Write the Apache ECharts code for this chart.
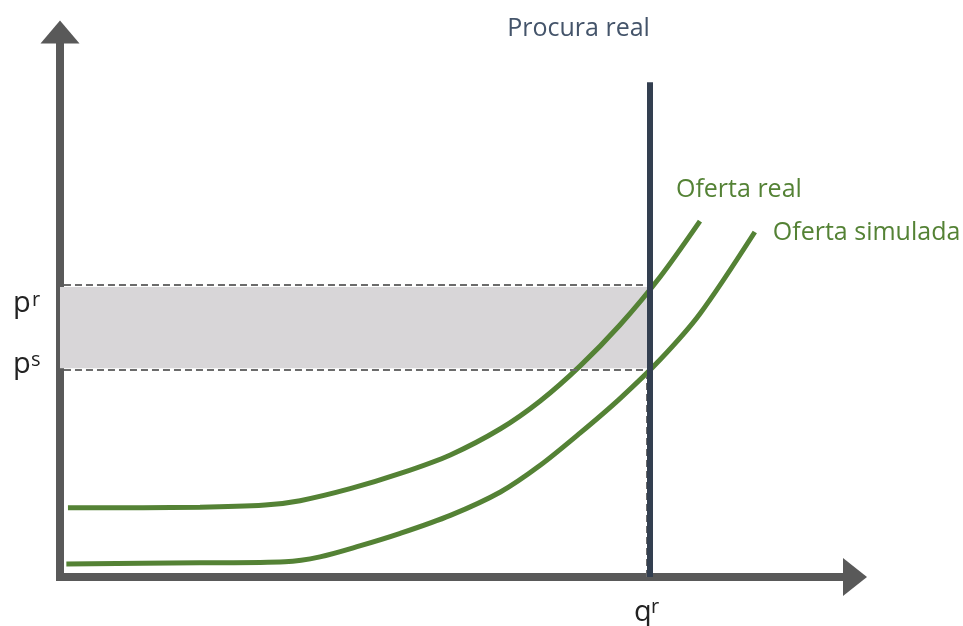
<!DOCTYPE html>
<html><head><meta charset="utf-8">
<script src="https://cdn.jsdelivr.net/npm/echarts@6/dist/echarts.min.js"></script>
<style>html,body{margin:0;padding:0;background:#fff}#c{width:963px;height:626px}</style>
</head><body><div id="c"></div>
<script>
// Quantities (x) and prices (y) in arbitrary units 0..100
const qReal = [1.0, 17.6, 25.8, 30.2, 36.5, 42.8, 49.1, 55.4, 60.4, 65.4, 70.4, 75.5, 80.5];
const pReal = [12.7, 12.8, 13.2, 14.0, 16.2, 19.0, 22.4, 27.2, 32.3, 38.7, 46.2, 55.1, 65.3];
const qSim  = [0.8, 17.6, 28.3, 32.7, 37.7, 42.8, 49.1, 55.4, 60.4, 65.4, 70.4, 75.5, 80.5, 87.4];
const pSim  = [2.4, 2.6, 2.8, 3.7, 5.7, 8.0, 11.3, 15.6, 20.5, 26.4, 32.7, 39.9, 48.3, 63.3];
const qr = 74.2;        // real quantity (vertical demand)
const pr = 53.2;        // real price
const ps = 38.3;        // simulated price
const demandTop = 90.8; // top of vertical demand line
const labels = { demand: 'Procura real', real: 'Oferta real', sim: 'Oferta simulada' };

const green = '#548235';
const font = '"Open Sans", "Noto Sans", sans-serif';
const zip = (a, b) => a.map((v, i) => [v, b[i]]);

const chart = echarts.init(document.getElementById('c'), null, { renderer: 'canvas' });
const axisCommon = {
  type: 'value', min: 0, max: 100,
  axisLine: { show: true, symbol: ['none', 'triangle'], lineStyle: { color: '#595959', width: 8, cap: 'square' } },
  axisTick: { show: false }, axisLabel: { show: false }, splitLine: { show: false }
};
chart.setOption({
  animation: false,
  grid: { left: 60, right: 108, top: 32, bottom: 49 },
  xAxis: Object.assign({}, axisCommon, { axisLine: Object.assign({}, axisCommon.axisLine, { symbolSize: [38, 24] }) }),
  yAxis: Object.assign({}, axisCommon, { axisLine: Object.assign({}, axisCommon.axisLine, { symbolSize: [39, 23] }) }),
  series: [
    {
      type: 'line', data: [], z: 1, silent: true,
      markArea: { silent: true, itemStyle: { color: '#d8d6d8' }, data: [[{ coord: [0, ps] }, { coord: [qr, pr] }]] },
      markLine: {
        silent: true, symbol: ['none', 'none'], label: { show: false },
        lineStyle: { color: '#6b6b6b', width: 2, type: [7, 4] },
        data: [
          [{ coord: [0.5, pr + 0.4] }, { coord: [qr - 0.5, pr + 0.4] }],
          [{ coord: [0.5, ps - 0.3] }, { coord: [qr - 0.5, ps - 0.3] }],
          [{ coord: [qr - 0.45, 0] }, { coord: [qr - 0.45, ps - 1.5] }]
        ]
      }
    },
    { name: labels.real, type: 'line', z: 3, data: zip(qReal, pReal), smooth: 0.3, showSymbol: false, lineStyle: { color: green, width: 5 } },
    { name: labels.sim, type: 'line', z: 3, data: zip(qSim, pSim), smooth: 0.3, showSymbol: false, lineStyle: { color: green, width: 5 } },
    {
      type: 'line', data: [], z: 5, silent: true,
      markLine: {
        silent: true, symbol: ['none', 'none'], label: { show: false },
        lineStyle: { color: '#333f50', width: 6, type: 'solid' },
        data: [[{ coord: [qr, 0] }, { coord: [qr, demandTop] }]]
      }
    }
  ]
});

const px = (x, y) => chart.convertToPixel({ gridIndex: 0 }, [x, y]);
const txt = (text, p, dx, dy, size, color, align) => ({
  type: 'text', x: p[0] + dx, y: p[1] + dy, silent: true, z: 10,
  style: { text: text, fill: color, font: size + 'px ' + font, align: align || 'left', verticalAlign: 'middle' }
});
const y0 = px(0, pr), y1 = px(0, ps), xq = px(qr, 0), dt = px(qr, demandTop);
const endR = px(qReal[qReal.length - 1], pReal[pReal.length - 1]);
const endS = px(qSim[qSim.length - 1], pSim[pSim.length - 1]);
const dark = '#222222';
chart.setOption({
  graphic: [
    txt('p', [13, y0[1]], 0, 17, 29, dark),
    txt('r', [32, y0[1]], 0, 13, 20, dark),
    txt('p', [13, y1[1]], 0, -4, 29, dark),
    txt('s', [31, y1[1]], 0, -8, 20, dark),
    txt('q', [xq[0], xq[1]], -16, 36, 29, dark),
    txt('r', [xq[0], xq[1]], 1, 30, 20, dark),
    txt(labels.demand, dt, 0, -53, 25, '#44546a', 'right'),
    txt(labels.real, endR, -24, -31, 25, green),
    txt(labels.sim, endS, 18, 1, 25, green)
  ]
});
</script></body></html>
